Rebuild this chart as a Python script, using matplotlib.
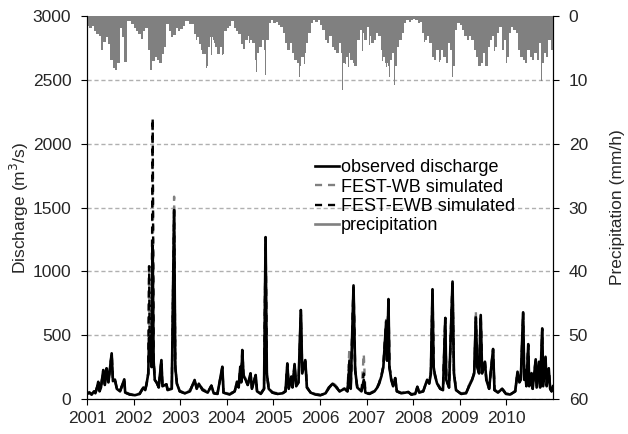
import numpy as np
import matplotlib
matplotlib.use('Agg')
import matplotlib.pyplot as plt

plt.rcParams['font.family'] = ['Liberation Sans', 'DejaVu Sans']
plt.rcParams['font.size'] = 12.5

# discharge, time in decimal years
t_q = [2001.00, 2001.05, 2001.10, 2001.15, 2001.18, 2001.22, 2001.242, 2001.27, 2001.30, 2001.35, 2001.383,
       2001.42, 2001.46, 2001.53, 2001.557, 2001.60, 2001.64, 2001.71, 2001.80, 2001.82, 2001.92,
       2002.03, 2002.13, 2002.21, 2002.25, 2002.28, 2002.315, 2002.333, 2002.35, 2002.365, 2002.385, 2002.41,
       2002.43, 2002.455, 2002.50, 2002.54, 2002.597, 2002.62, 2002.705, 2002.73, 2002.82, 2002.87, 2002.895,
       2002.93, 2002.99,
       2003.10, 2003.21, 2003.31, 2003.355, 2003.40, 2003.48, 2003.59, 2003.67, 2003.72, 2003.80, 2003.905, 2003.93,
       2004.06, 2004.17, 2004.22, 2004.255, 2004.29, 2004.31, 2004.333, 2004.36, 2004.405, 2004.45, 2004.51,
       2004.54, 2004.62, 2004.65, 2004.73, 2004.80, 2004.833, 2004.86, 2004.90, 2004.98,
       2005.09, 2005.20, 2005.26, 2005.30, 2005.33, 2005.385, 2005.41, 2005.455, 2005.49, 2005.54, 2005.59,
       2005.62, 2005.685, 2005.72, 2005.80, 2005.90,
       2006.01, 2006.12, 2006.20, 2006.27, 2006.33, 2006.42, 2006.525, 2006.59, 2006.63, 2006.66, 2006.72,
       2006.755, 2006.80, 2006.89, 2006.94, 2006.975,
       2007.06, 2007.17, 2007.23, 2007.27, 2007.32, 2007.36, 2007.42, 2007.44, 2007.47, 2007.49, 2007.53,
       2007.57, 2007.615, 2007.65, 2007.745, 2007.83, 2007.895, 2007.96,
       2008.045, 2008.09, 2008.13, 2008.215, 2008.30, 2008.345, 2008.38, 2008.415, 2008.44, 2008.47, 2008.515,
       2008.58, 2008.64, 2008.69, 2008.71, 2008.77, 2008.845, 2008.875, 2008.92,
       2009.03, 2009.135, 2009.20, 2009.265, 2009.31, 2009.345, 2009.375, 2009.415, 2009.45, 2009.48, 2009.54,
       2009.57, 2009.63, 2009.715, 2009.745, 2009.82, 2009.91, 2009.99,
       2010.08, 2010.19, 2010.24, 2010.28, 2010.31, 2010.36, 2010.385, 2010.40, 2010.43, 2010.47, 2010.49,
       2010.54, 2010.565, 2010.63, 2010.65, 2010.70, 2010.725, 2010.77, 2010.79, 2010.84, 2010.865, 2010.91,
       2010.94, 2010.97, 2011.00]

q_obs = [40, 50, 35, 60, 45, 95, 135, 60, 90, 227, 110, 240, 130, 358, 140, 150, 80, 60, 154, 50, 35,
         30, 40, 90, 70, 120, 200, 480, 300, 490, 250, 1200, 300, 150, 125, 90, 305, 100, 115, 70, 80, 1480, 250, 120, 60,
         45, 60, 149, 80, 120, 70, 50, 105, 45, 40, 253, 50,
         35, 60, 135, 90, 253, 130, 384, 180, 150, 110, 201, 80, 188, 60, 40, 80, 1268, 200, 80, 50,
         40, 45, 60, 279, 80, 175, 90, 274, 100, 130, 697, 200, 305, 90, 50, 35,
         30, 45, 90, 120, 100, 60, 80, 60, 250, 80, 890, 227, 90, 60, 150, 50,
         40, 60, 90, 120, 180, 250, 600, 300, 783, 250, 150, 100, 164, 60, 45, 50, 55, 35,
         40, 96, 50, 60, 150, 120, 200, 860, 250, 180, 120, 80, 70, 635, 150, 90, 920, 200, 70,
         40, 45, 100, 150, 200, 635, 250, 200, 658, 200, 292, 150, 80, 392, 70, 50, 80, 40,
         35, 60, 214, 130, 150, 679, 150, 227, 100, 430, 100, 200, 80, 311, 90, 292, 90, 553, 100, 331, 100, 240,
         80, 60, 100]

q_wb = [45, 55, 40, 65, 50, 100, 130, 70, 95, 220, 120, 235, 140, 350, 150, 155, 90, 65, 150, 55, 40,
        30, 45, 95, 75, 125, 200, 1049, 320, 500, 260, 2190, 320, 160, 130, 95, 300, 105, 120, 75, 85, 1585, 260, 125, 65,
        50, 70, 140, 95, 120, 80, 55, 100, 50, 45, 240, 55,
        40, 65, 130, 100, 240, 140, 370, 190, 160, 115, 195, 90, 180, 65, 45, 85, 1260, 210, 85, 55,
        45, 50, 65, 270, 90, 170, 100, 265, 110, 135, 700, 210, 300, 95, 55, 40,
        35, 50, 100, 125, 110, 65, 85, 65, 390, 85, 900, 230, 95, 65, 352, 55,
        45, 65, 95, 130, 190, 260, 620, 310, 780, 260, 160, 110, 160, 65, 50, 55, 60, 40,
        45, 90, 55, 65, 145, 130, 210, 850, 260, 190, 130, 85, 75, 630, 160, 95, 910, 210, 75,
        45, 50, 110, 160, 210, 690, 260, 210, 650, 210, 285, 160, 85, 385, 75, 55, 85, 45,
        40, 65, 205, 140, 160, 670, 160, 220, 110, 420, 110, 205, 85, 305, 95, 285, 95, 545, 110, 325, 110, 235,
        85, 65, 100]

q_ewb = [40, 50, 35, 60, 45, 95, 135, 65, 90, 225, 115, 240, 135, 355, 145, 150, 85, 60, 152, 50, 35,
         30, 40, 90, 70, 120, 200, 1040, 310, 490, 250, 2200, 310, 150, 125, 90, 300, 100, 115, 70, 80, 1500, 250, 120, 60,
         45, 65, 145, 85, 120, 75, 50, 105, 45, 40, 250, 50,
         35, 60, 135, 95, 250, 135, 380, 185, 150, 110, 200, 85, 185, 60, 40, 80, 1265, 205, 80, 50,
         40, 45, 60, 275, 85, 175, 95, 270, 105, 130, 695, 205, 305, 90, 50, 35,
         30, 45, 95, 120, 105, 60, 80, 60, 300, 80, 890, 225, 90, 60, 200, 50,
         40, 60, 90, 125, 185, 255, 610, 305, 783, 255, 155, 105, 164, 60, 45, 50, 55, 35,
         40, 95, 50, 60, 150, 125, 205, 860, 255, 185, 125, 80, 70, 635, 155, 90, 920, 205, 70,
         40, 45, 105, 155, 205, 650, 255, 205, 655, 205, 290, 155, 80, 390, 70, 50, 80, 40,
         35, 60, 210, 135, 155, 675, 155, 225, 105, 425, 105, 200, 80, 310, 90, 290, 90, 550, 105, 330, 105, 240,
         80, 60, 100]

# precipitation: background level every 0.05 yr, one row per year (2001 ... 2010)
p_level = [1.5, 1.8, 1.5, 2.3, 2.8, 3.1, 5.4, 4.1, 3.3, 4.4, 6.9, 8.2, 8.5, 7.4, 1.8, 3.3, 7.2, 0.8, 0.8, 1.3,
           1.8, 2.3, 2.8, 3.6, 2.3, 1.8, 5.4, 8.5, 7.0, 6.4, 6.9, 7.4, 5.9, 4.9, 1.3, 2.3, 3.3, 3.0, 1.8, 2.3,
           2.1, 1.5, 0.8, 0.8, 1.3, 1.3, 2.8, 3.3, 4.4, 5.4, 5.9, 7.9, 4.9, 3.3, 3.8, 4.9, 5.9, 4.9, 5.9, 2.3,
           1.8, 1.5, 0.8, 1.8, 2.3, 2.8, 4.4, 5.1, 3.8, 3.2, 3.8, 4.3, 6.9, 5.8, 4.8, 3.8, 5.3, 3.8, 1.1, 0.6,
           1.1, 0.9, 1.4, 1.7, 2.7, 4.3, 5.3, 4.3, 5.8, 6.9, 7.4, 7.9, 6.4, 5.8, 4.3, 2.7, 1.1, 0.6, 0.9, 0.6,
           1.4, 2.2, 3.8, 4.3, 3.2, 4.8, 5.3, 5.8, 4.3, 5.8, 7.4, 6.4, 5.8, 6.9, 7.4, 7.9, 3.8, 2.2, 2.7, 3.8,
           1.7, 3.2, 4.3, 3.8, 2.7, 3.2, 5.3, 6.4, 7.4, 7.9, 6.9, 5.8, 7.9, 4.8, 3.8, 2.7, 1.1, 0.6, 0.9, 0.6,
           0.4, 0.6, 1.1, 0.9, 2.7, 3.8, 3.2, 4.3, 6.4, 6.9, 5.3, 6.9, 5.3, 6.4, 7.4, 4.3, 5.3, 7.9, 2.2, 1.1,
           1.4, 2.2, 3.2, 3.8, 3.2, 3.8, 5.3, 6.4, 7.9, 7.4, 5.8, 7.9, 4.8, 3.8, 3.2, 4.8, 2.7, 1.7, 5.3, 3.8,
           6.4, 2.7, 1.7, 2.2, 2.7, 5.3, 6.4, 6.9, 7.4, 5.3, 6.4, 6.9, 5.8, 6.9, 4.3, 7.4, 5.8, 6.4, 3.8, 5.3]
t_level = 2001.0 + 0.05 * np.arange(len(p_level)) + 0.025

# single storm days
t_storm = [2001.315, 2001.514, 2001.563, 2001.62, 2001.777, 2002.171, 2002.349, 2002.42, 2002.49, 2002.563,
           2002.61, 2002.87, 2003.355, 2003.484, 2003.563, 2003.67, 2003.74, 2003.81, 2003.906, 2004.347,
           2004.49, 2004.634, 2004.70, 2004.833, 2005.298, 2005.418, 2005.49, 2005.561, 2005.668, 2006.133,
           2006.347, 2006.488, 2006.55, 2006.61, 2006.74, 2006.917, 2007.06, 2007.34, 2007.424, 2007.488,
           2007.595, 2007.72, 2008.24, 2008.43, 2008.56, 2008.702, 2008.844, 2009.20, 2009.37, 2009.458,
           2009.559, 2009.74, 2009.91, 2010.004, 2010.23, 2010.29, 2010.40, 2010.53, 2010.636, 2010.758,
           2010.85]
p_storm = [5.3, 11.3, 8.7, 7.5, 7.2, 3.5, 8.7, 13.2, 5.3, 7.4,
           7.7, 10.3, 3.7, 6.0, 8.2, 6.1, 4.3, 5.3, 6.1, 5.1,
           4.3, 8.7, 4.8, 9.2, 4.7, 6.6, 10.0, 9.5, 7.5, 5.1,
           6.0, 11.6, 7.5, 8.0, 7.9, 5.5, 4.5, 7.0, 8.0, 9.5,
           10.8, 5.0, 4.0, 7.0, 7.2, 8.0, 9.5, 4.3, 6.5, 9.0,
           10.5, 5.5, 5.0, 7.4, 5.0, 7.5, 7.9, 6.5, 7.0, 10.2,
           7.3]

years = list(range(2001, 2011))

fig = plt.figure(figsize=(6.28, 4.34), dpi=100)
ax = fig.add_axes([0.1385, 0.0806, 0.742, 0.8825])
ax2 = ax.twinx()

grey = '#808080'
ax.plot(t_q, q_wb, color=grey, ls=(0, (3, 2.5)), lw=1.7)
ax.plot(t_q, q_ewb, color='black', ls=(0, (3, 2.5)), lw=1.7)
ax.plot(t_q, q_obs, color='black', lw=1.9)

ax2.bar(t_level, p_level, width=0.05, color=grey, linewidth=0)
ax2.bar(t_storm, p_storm, width=0.012, color=grey, linewidth=0)
ax2.set_ylim(60, 0)

ax.set_ylim(0, 3000)
ax.set_yticks(range(0, 3001, 500))
ax.set_xlim(2001, 2011)
ax.set_xticks(years)
ax.set_xticklabels([str(y) for y in years])
ax.yaxis.grid(True, color='#b0b0b0', ls=(0, (3, 2)), lw=1)
ax.set_axisbelow(True)

ax.set_ylabel('Discharge (m$^3$/s)', color='#262626', labelpad=1)
ax2.set_ylabel('Precipitation (mm/h)', color='#262626', labelpad=16)
ax2.set_yticks(range(0, 61, 10))

for a in (ax, ax2):
    a.spines['top'].set_visible(False)
    a.tick_params(axis='y', direction='out', length=4.3, pad=7, colors='black', labelcolor='#262626')
ax.tick_params(axis='x', direction='out', length=4.3, pad=4, colors='black', labelcolor='#262626')

h = [plt.Line2D([], [], color='black', lw=1.9),
     plt.Line2D([], [], color=grey, lw=1.7, ls=(0, (3, 2.5))),
     plt.Line2D([], [], color='black', lw=1.7, ls=(0, (3, 2.5))),
     plt.Line2D([], [], color=grey, lw=1.9)]
labels = ['observed discharge', 'FEST-WB simulated', 'FEST-EWB simulated', 'precipitation']
ax2.legend(h, labels, loc='upper left', bbox_to_anchor=(0.474, 0.645), frameon=False, fontsize=13,
           handlelength=1.35, handletextpad=0.1, labelspacing=0.13, borderaxespad=0)

fig.savefig('out.png', dpi=100)
